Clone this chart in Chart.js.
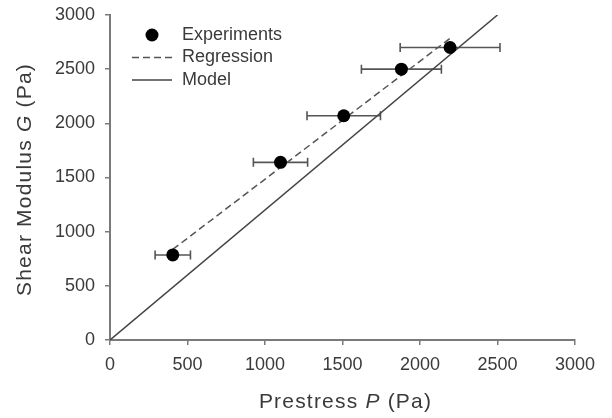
<!DOCTYPE html>
<html>
<head>
<meta charset="utf-8">
<script src="https://cdn.jsdelivr.net/npm/chart.js@4"></script>
<style>
    body { margin: 0; background: #fff; }
    #chart { display: block; }
</style>
</head>
<body>
<canvas id="chart" width="612" height="418"></canvas>
<script>
// experiments: prestress P vs shear modulus G, with horizontal error in P
const prestress = [405, 1100, 1508, 1880, 2194];
const shearModulus = [785, 1640, 2070, 2500, 2700];
const prestressErr = [114, 175, 237, 258, 322];

// regression fit through the experiments
const regressionX = [405, 2194];
const regressionY = [836, 2785];

// model G = 1.2 P
const modelX = [0, 2500];
const modelY = [0, 3000];

const xTicks = [0, 500, 1000, 1500, 2000, 2500, 3000];
const yTicks = [0, 500, 1000, 1500, 2000, 2500, 3000];

const FONT = '"Liberation Sans", Arial, sans-serif';
const TEXT = '#3a3a3a';
const AXIS = '#7a7a7a';

function pairs(xs, ys) {
    return xs.map(function(x, i) { return {x: x, y: ys[i]}; });
}

// horizontal error bars drawn under the points
const errorBars = {
    id: 'errorBars',
    beforeDatasetsDraw(chart) {
        const ctx = chart.ctx;
        const sx = chart.scales.x, sy = chart.scales.y;
        ctx.save();
        ctx.strokeStyle = '#555';
        ctx.lineWidth = 1.6;
        prestress.forEach(function(p, i) {
            const y = sy.getPixelForValue(shearModulus[i]);
            const x0 = sx.getPixelForValue(p - prestressErr[i]);
            const x1 = sx.getPixelForValue(p + prestressErr[i]);
            ctx.beginPath();
            ctx.moveTo(x0, y); ctx.lineTo(x1, y);
            ctx.moveTo(x0, y - 4.5); ctx.lineTo(x0, y + 4.5);
            ctx.moveTo(x1, y - 4.5); ctx.lineTo(x1, y + 4.5);
            ctx.stroke();
        });
        ctx.restore();
    }
};

function drawParts(ctx, parts, size) {
    let w = 0;
    parts.forEach(function(p) {
        ctx.font = (p[1] ? 'italic ' : '') + size + 'px ' + FONT;
        w += ctx.measureText(p[0]).width;
    });
    let x = -w / 2;
    parts.forEach(function(p) {
        ctx.font = (p[1] ? 'italic ' : '') + size + 'px ' + FONT;
        ctx.fillText(p[0], x, 0);
        x += ctx.measureText(p[0]).width;
    });
}

// axis titles with italic symbols + legend inside the plot
const extras = {
    id: 'extras',
    afterDraw(chart) {
        const ctx = chart.ctx;
        const a = chart.chartArea;
        ctx.save();
        ctx.fillStyle = TEXT;
        ctx.textBaseline = 'middle';
        ctx.textAlign = 'left';
        ctx.letterSpacing = '1.2px';

        ctx.save();
        ctx.translate((a.left + a.right) / 2 + 3, 402);
        drawParts(ctx, [['Prestress ', false], ['P', true], [' (Pa)', false]], 21);
        ctx.restore();

        ctx.save();
        ctx.translate(25, (a.top + a.bottom) / 2 + 2);
        ctx.rotate(-Math.PI / 2);
        drawParts(ctx, [['Shear Modulus ', false], ['G', true], [' (Pa)', false]], 21);
        ctx.restore();

        ctx.letterSpacing = '0px';
        ctx.font = '18px ' + FONT;
        const lx = a.left + 22, tx = a.left + 72;
        chart.data.datasets.forEach(function(ds, i) {
            const y = a.top + 20 + i * 22.5;
            if (ds.showLine) {
                ctx.save();
                ctx.strokeStyle = ds.borderColor;
                ctx.lineWidth = ds.borderWidth;
                ctx.setLineDash(ds.borderDash || []);
                ctx.beginPath();
                ctx.moveTo(lx, y); ctx.lineTo(lx + 40, y);
                ctx.stroke();
                ctx.restore();
            } else {
                ctx.beginPath();
                ctx.arc(lx + 20, y, ds.pointRadius, 0, Math.PI * 2);
                ctx.fillStyle = ds.pointBackgroundColor;
                ctx.fill();
                ctx.fillStyle = TEXT;
            }
            ctx.fillText(ds.label, tx, y);
        });
        ctx.restore();
    }
};

function axis(ticks, isX) {
    return {
        type: 'linear',
        min: 0,
        max: 3000,
        afterBuildTicks: function(s) { s.ticks = ticks.map(function(v) { return {value: v}; }); },
        afterFit: function(s) {
            if (isX) s.height = 78; else s.width = 110;
            s.paddingTop = 0; s.paddingBottom = 0;
            s.paddingLeft = 0; s.paddingRight = 0;
        },
        grid: { display: true, drawOnChartArea: false, drawTicks: true, tickLength: 5, color: AXIS, lineWidth: 1.5 },
        border: { display: true, color: AXIS, width: 2 },
        ticks: {
            color: TEXT,
            font: { family: FONT, size: 18 },
            padding: isX ? 9 : 10,
            callback: function(v) { return String(v); }
        },
        title: { display: false }
    };
}

new Chart(document.getElementById('chart'), {
    type: 'scatter',
    data: {
        datasets: [{
            label: 'Experiments',
            data: pairs(prestress, shearModulus),
            showLine: false,
            pointRadius: 6.5,
            pointBackgroundColor: '#000',
            pointBorderColor: '#000',
            pointBorderWidth: 0
        }, {
            label: 'Regression',
            data: pairs(regressionX, regressionY),
            showLine: true,
            borderColor: '#555',
            borderWidth: 1.5,
            borderDash: [7, 4],
            pointRadius: 0
        }, {
            label: 'Model',
            data: pairs(modelX, modelY),
            showLine: true,
            borderColor: '#444',
            borderWidth: 1.5,
            pointRadius: 0
        }]
    },
    options: {
        responsive: false,
        animation: false,
        layout: { padding: { left: 0, top: 15, right: 37, bottom: 0 } },
        plugins: {
            legend: { display: false },
            tooltip: { enabled: false }
        },
        scales: {
            x: axis(xTicks, true),
            y: axis(yTicks, false)
        }
    },
    plugins: [errorBars, extras]
});
</script>
</body>
</html>
